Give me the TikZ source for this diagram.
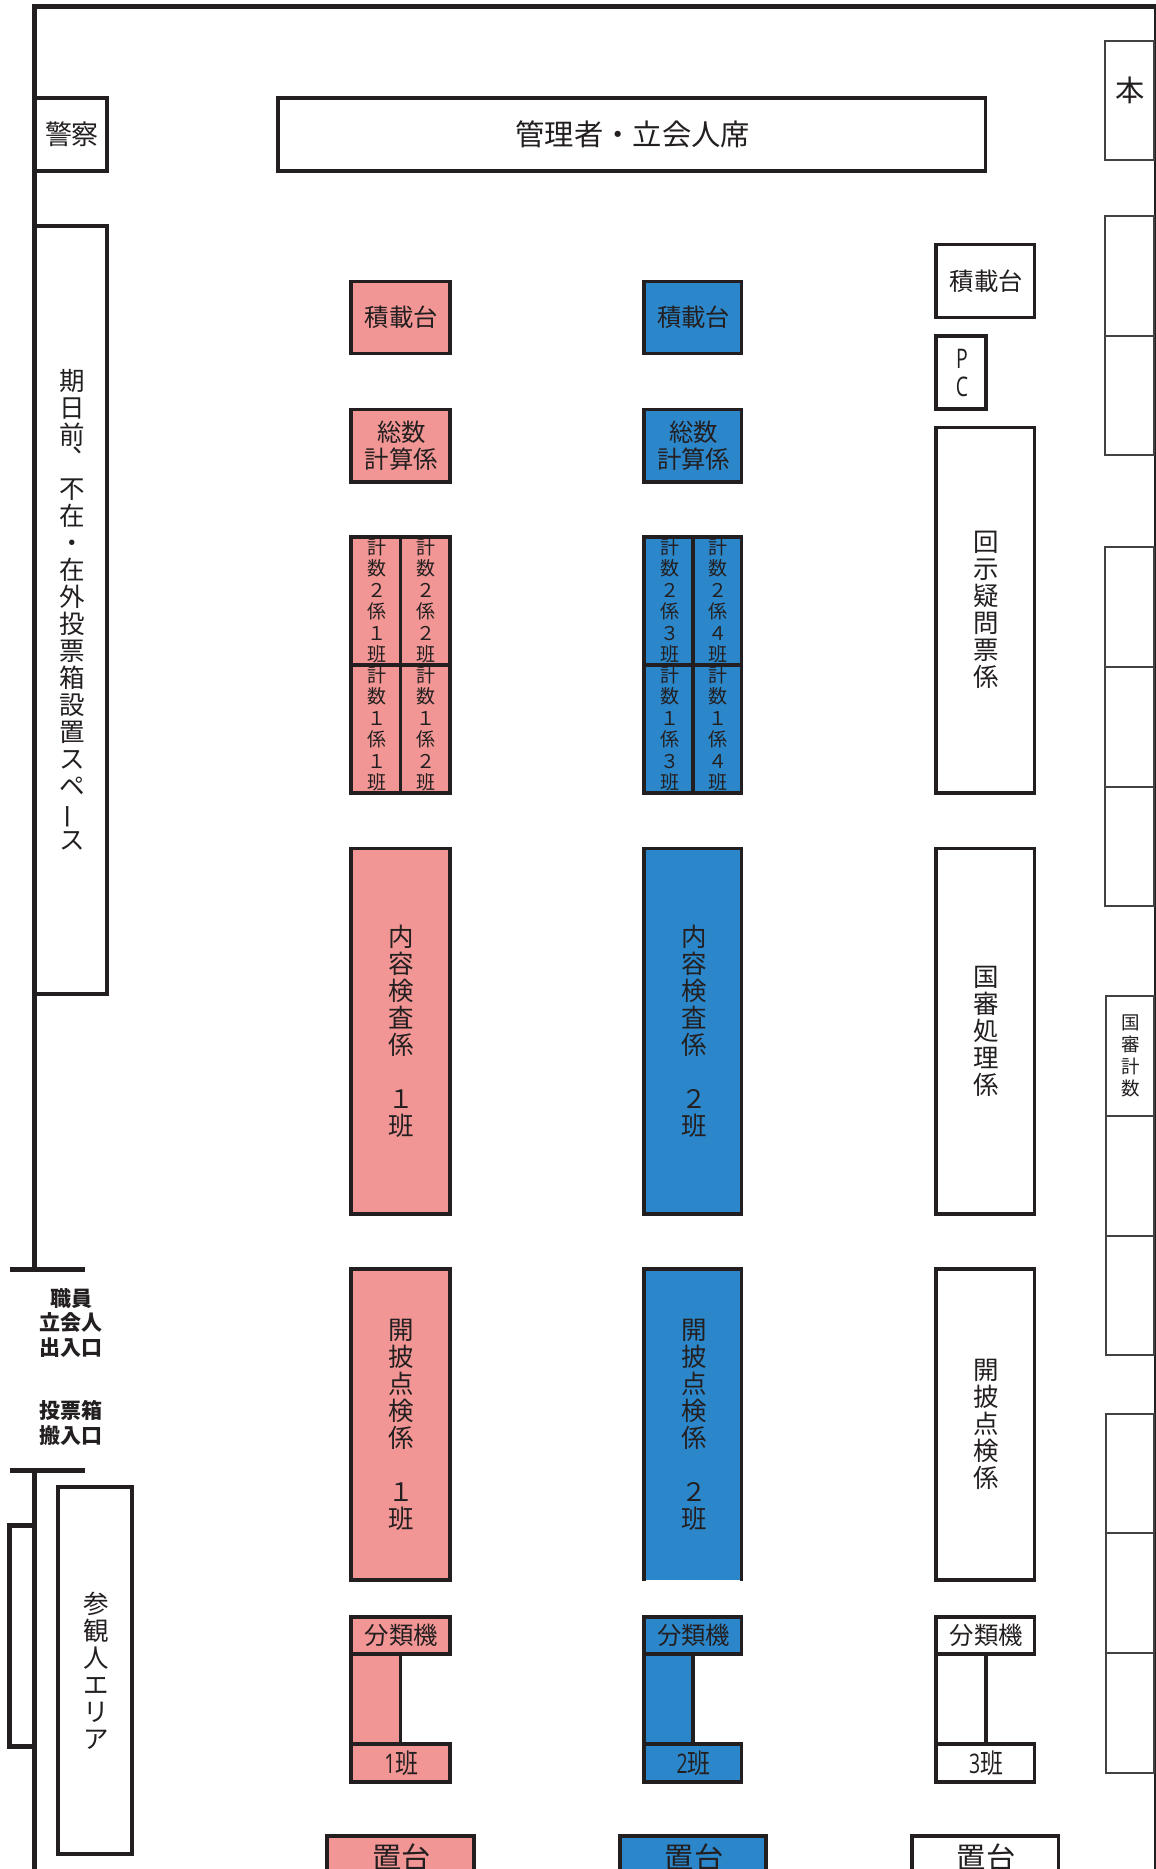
\documentclass[tikz,border=0pt]{standalone}
\usepackage{graphicx}
\usepackage{fontspec}
\setmainfont{Noto Sans CJK JP}
\newfontfamily\condfont[FakeStretch=0.72]{Open Sans}
\newfontfamily\condcjk[FakeStretch=0.85]{Noto Sans CJK JP}
\usetikzlibrary{calc}
\definecolor{ink}{HTML}{231F20}
\definecolor{pinkf}{HTML}{F19694}
\definecolor{bluef}{HTML}{2B87CA}
\tikzset{
  wall/.style={draw=ink,line width=5pt},
  thinwall/.style={draw=ink,line width=3.3pt},
  plain/.style={draw=ink,line width=3.3pt,fill=white},
  pink/.style={draw=ink,line width=3.3pt,fill=pinkf},
  blue/.style={draw=ink,line width=3.3pt,fill=bluef},
  shelf/.style={draw=ink!85,line width=1.3pt,fill=white},
  lab/.style={text=ink,align=center,inner sep=0pt,outer sep=0pt,xshift=1pt},
  fA/.style={font=\fontsize{24.4}{26.6}\selectfont},
  fB/.style={font=\fontsize{19}{21.5}\selectfont},
  fC/.style={font=\fontsize{29.3}{32}\selectfont},
  fD/.style={font=\fontsize{21}{24.5}\selectfont\bfseries},
  fE/.style={font=\fontsize{18.5}{21.8}\selectfont},
  fF/.style={font=\fontsize{25.5}{27}\selectfont},
  fG/.style={font=\fontsize{27}{28}\selectfont\condfont},
  fH/.style={font=\fontsize{27}{27}\selectfont},
}
% #1 dy, #2 name, #3 box style, #4-#7 corners, #8 text style, #9 text
\newcommand\bx[9][0]{%
  \path[#3] (#4,#5) rectangle (#6,#7);
  \node[lab,#8] (#2) at ($(#4,#5)!.5!(#6,#7)+(0,#1)$) {#9};}
\newcommand\vbar{\rotatebox[origin=c]{90}{ー}}
\newcommand\han{{\condcjk 班}}
\begin{document}
\begin{tikzpicture}[x=1pt,y=-1pt]
\useasboundingbox (0,0) rectangle (1156,1869);
\begin{scope}
\clip (0,0) rectangle (1156,1869);
% walls
\coordinate (wallTopLeft) at (34.5,6);
\coordinate (wallTopRight) at (1156,6);
\coordinate (wallBotRight) at (1155,1869);
\coordinate (wallDoorA) at (34.5,1269);
\coordinate (wallDoorB) at (34.5,1470);
\coordinate (wallBotLeft) at (34.5,1869);
\draw[wall] (wallDoorA) -- (wallTopLeft) -- (wallTopRight);
\draw[wall] (wallDoorB) -- (wallBotLeft);
\draw[draw=ink,line width=2pt] (1155,6) -- (wallBotRight);
\coordinate (doorAl) at (10,1269); \coordinate (doorAr) at (85,1269);
\coordinate (doorBl) at (10,1470); \coordinate (doorBr) at (85,1470);
\draw[wall] (doorAl) -- (doorAr);
\draw[wall] (doorBl) -- (doorBr);
\coordinate (brA) at (34.5,1525); \coordinate (brB) at (9,1525);
\coordinate (brC) at (9,1746); \coordinate (brD) at (34.5,1746);
\draw[wall] (brA) -- (brB) -- (brC) -- (brD);

% left side
\bx{police}{plain}{35}{98}{107}{171}{fH}{警察}
\bx{admin}{plain}{278}{98}{985.5}{171}{fC}{管理者・立会人席}
\bx{early}{plain}{35}{226}{107}{994}{fF}{期\\日\\前\\\raisebox{19pt}{\hspace*{27pt}、}\\不\\在\\・\\在\\外\\投\\票\\箱\\設\\置\\ス\\ペ\\\vbar\\ス}
\bx{visitor}{plain}{58}{1487}{132}{1854}{fF}{参\\観\\人\\エ\\リ\\ア}
\node[lab,fD] (door1) at (70,1323) {職員\\立会人\\出入口};
\node[lab,fD] (door2) at (70,1423) {投票箱\\搬入口};

% pink column
\bx{pA}{pink}{351}{281.5}{450}{353.5}{fA}{積載台}
\bx{pB}{pink}{351}{409.5}{450}{482}{fA}{総数\\計算係}
\bx{pC1}{pink}{351}{537}{400.5}{665}{fB}{計\\数\\２\\係\\１\\班}
\bx{pC2}{pink}{400.5}{537}{450}{665}{fB}{計\\数\\２\\係\\２\\班}
\bx{pC3}{pink}{351}{665}{400.5}{793}{fB}{計\\数\\１\\係\\１\\班}
\bx{pC4}{pink}{400.5}{665}{450}{793}{fB}{計\\数\\１\\係\\２\\班}
\bx{pD}{pink}{351}{848.5}{450}{1214}{fF}{内\\容\\検\\査\\係\\\mbox{}\\１\\班}
\bx{pE}{pink}{351}{1269}{450}{1580}{fF}{開\\披\\点\\検\\係\\\mbox{}\\１\\班}
\bx{pF}{pink}{351}{1617}{450}{1654}{fA}{分類機}
\path[pink] (351,1654) rectangle (400.5,1744);
\bx{pG}{pink}{351}{1744}{450}{1782}{fG}{1\han}
\bx[-11]{pH}{pink}{327}{1836}{474}{1900}{fC}{置台}

% blue column
\bx{bA}{blue}{644}{281.5}{741.5}{353.5}{fA}{積載台}
\bx{bB}{blue}{644}{409.5}{741.5}{482}{fA}{総数\\計算係}
\bx{bC1}{blue}{644}{537}{693}{665}{fB}{計\\数\\２\\係\\３\\班}
\bx{bC2}{blue}{693}{537}{741.5}{665}{fB}{計\\数\\２\\係\\４\\班}
\bx{bC3}{blue}{644}{665}{693}{793}{fB}{計\\数\\１\\係\\３\\班}
\bx{bC4}{blue}{693}{665}{741.5}{793}{fB}{計\\数\\１\\係\\４\\班}
\bx{bD}{blue}{644}{848.5}{741.5}{1214}{fF}{内\\容\\検\\査\\係\\\mbox{}\\２\\班}
\path[fill=bluef] (644,1269) rectangle (741.5,1580);
\path[draw=ink,line width=3.3pt] (644,1581) -- (644,1269) -- (741.5,1269) -- (741.5,1581);
\node[lab,fF] (bE) at (692.75,1424.5) {開\\披\\点\\検\\係\\\mbox{}\\２\\班};
\bx{bF}{blue}{644}{1617}{741.5}{1654}{fA}{分類機}
\path[blue] (644,1654) rectangle (693,1744);
\bx{bG}{blue}{644}{1744}{741.5}{1782}{fG}{2\han}
\bx[-11]{bH}{blue}{620}{1836}{766}{1900}{fC}{置台}

% white column
\bx{wA}{plain}{936}{244.5}{1034.5}{317.5}{fA}{積載台}
\bx{wPC}{plain}{936}{336}{986}{409}{fG}{P\\C}
\bx{wB}{plain}{936}{427.5}{1034.5}{793}{fF}{回\\示\\疑\\問\\票\\係}
\bx{wC}{plain}{936}{848.5}{1034.5}{1214}{fF}{国\\審\\処\\理\\係}
\bx{wD}{plain}{936}{1269}{1034.5}{1580}{fF}{開\\披\\点\\検\\係}
\bx{wF}{plain}{936}{1617}{1034.5}{1654}{fA}{分類機}
\path[plain] (936,1654) rectangle (986,1744);
\bx{wG}{plain}{936}{1744}{1034.5}{1782}{fG}{3\han}
\bx[-11]{wH}{plain}{912}{1836}{1058.5}{1900}{fC}{置台}

% shelves at right wall
\bx[-10]{s1}{shelf}{1105}{41}{1154}{160}{fC}{本}
\bx{s2}{shelf}{1105}{216}{1154}{336}{fE}{}
\bx{s3}{shelf}{1105}{336}{1154}{455}{fE}{}
\bx{s4}{shelf}{1105}{547}{1154}{667}{fE}{}
\bx{s5}{shelf}{1105}{667}{1154}{787}{fE}{}
\bx{s6}{shelf}{1105}{787}{1154}{906}{fE}{}
\bx{s7}{shelf}{1106}{996}{1154}{1116}{fE}{国\\審\\計\\数}
\bx{s8}{shelf}{1106}{1116}{1154}{1236}{fE}{}
\bx{s9}{shelf}{1106}{1236}{1154}{1355}{fE}{}
\bx{s10}{shelf}{1106}{1414}{1154}{1533}{fE}{}
\bx{s11}{shelf}{1106}{1533}{1154}{1653}{fE}{}
\bx{s12}{shelf}{1106}{1653}{1154}{1773}{fE}{}
\end{scope}
\end{tikzpicture}
\end{document}
